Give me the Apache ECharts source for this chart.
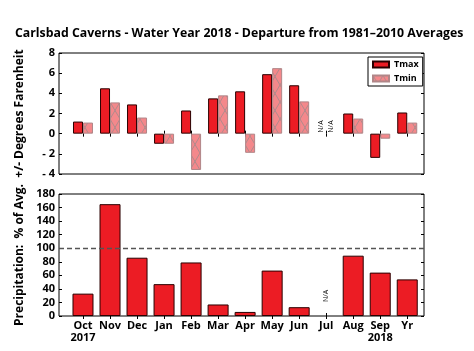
<!DOCTYPE html>
<html>
<head>
<meta charset="utf-8">
<script src="https://cdn.jsdelivr.net/npm/echarts@6/dist/echarts.min.js"></script>
<style>
  html, body { margin: 0; padding: 0; background: #fff; }
  #chart { width: 474px; height: 351px; }
</style>
</head>
<body>
<div id="chart"></div>
<script>
// categories, Oct 2017 .. Sep 2018 plus water-year total
let months = ['Oct', 'Nov', 'Dec', 'Jan', 'Feb', 'Mar', 'Apr', 'May', 'Jun', 'Jul', 'Aug', 'Sep', 'Yr'];
let monthLabels = ['Oct\n2017', 'Nov', 'Dec', 'Jan', 'Feb', 'Mar', 'Apr', 'May', 'Jun', 'Jul', 'Aug', 'Sep\n2018', 'Yr'];

// temperature departures (deg F), null = N/A
let tmax = [1.2, 4.5, 2.9, -1.0, 2.3, 3.5, 4.2, 5.9, 4.8, null, 2.0, -2.4, 2.1];
let tmin = [1.1, 3.1, 1.6, -1.0, -3.6, 3.8, -1.9, 6.5, 3.2, null, 1.5, -0.5, 1.1];

// precipitation, % of average
let precip = [33, 165, 86, 47, 79, 17, 6, 67, 13, null, 89, 64, 54];

let tempTicks = [-4, -2, 0, 2, 4, 6, 8];
let precipTicks = [0, 20, 40, 60, 80, 100, 120, 140, 160, 180];

let FONT = '"Open Sans", "DejaVu Sans", sans-serif';
let RED = '#ec1c24';
let positions = months.map((m, i) => i + 1);

function hatch() {
  let c = document.createElement('canvas');
  c.width = 10;
  c.height = 17;
  let ctx = c.getContext('2d');
  ctx.fillStyle = '#f4888b';
  ctx.fillRect(0, 0, 10, 17);
  ctx.strokeStyle = '#b08a8c';
  ctx.lineWidth = 1;
  ctx.beginPath();
  ctx.moveTo(0, 0); ctx.lineTo(10, 17);
  ctx.moveTo(10, 0); ctx.lineTo(0, 17);
  ctx.stroke();
  return c;
}

function naLabel(dist) {
  return {
    show: true, formatter: 'N/A', position: 'top', distance: dist,
    rotate: 90, align: 'left', verticalAlign: 'middle',
    fontSize: 7, color: '#000', fontFamily: FONT
  };
}

function toPoints(arr, dist) {
  return arr.map((v, i) => {
    if (v === null) {
      return { value: [i + 1, 0], itemStyle: { borderWidth: 0, color: 'transparent' }, label: naLabel(dist) };
    }
    return [i + 1, v];
  });
}

function xAxis(grid, pos, labels) {
  return {
    type: 'value', gridIndex: grid, position: pos,
    min: 0.112, max: 13.62,
    axisLine: { show: false },
    splitLine: { show: false },
    axisTick: { show: true, inside: true, length: 3, customValues: positions, lineStyle: { color: '#000' } },
    axisLabel: labels ? {
      show: true, customValues: positions,
      formatter: (v) => monthLabels[Math.round(v) - 1] || '',
      color: '#000', fontWeight: 'bold', fontSize: 11, fontFamily: FONT, margin: 4, lineHeight: 12
    } : { show: false }
  };
}

function yAxis(grid, pos, ticks, name, fmt) {
  return {
    type: 'value', gridIndex: grid, position: pos,
    min: ticks[0], max: ticks[ticks.length - 1], interval: ticks[1] - ticks[0],
    name: name || '', nameLocation: 'middle', nameGap: 33,
    nameTextStyle: { color: '#000', fontWeight: 'bold', fontSize: 12, fontFamily: FONT },
    axisLine: { show: false },
    splitLine: { show: false },
    axisTick: { show: true, inside: true, length: 3, lineStyle: { color: '#000' } },
    axisLabel: fmt ? {
      show: true, formatter: fmt, color: '#000', fontWeight: 'bold', fontSize: 11, fontFamily: FONT, margin: 4
    } : { show: false }
  };
}

let chart = echarts.init(document.getElementById('chart'), null, { renderer: 'canvas' });

let option = {
  animation: false,
  backgroundColor: '#fff',
  title: {
    text: 'Carlsbad Caverns - Water Year 2018 - Departure from 1981\u20132010 Averages',
    left: 10, top: 22,
    textStyle: { color: '#000', fontWeight: 'bold', fontSize: 12.3, fontFamily: FONT }
  },
  legend: {
    data: ['Tmax', 'Tmin'],
    orient: 'vertical', left: 368, top: 57, icon: 'rect',
    padding: [3, 4, 3, 4], itemGap: 5, itemWidth: 16, itemHeight: 6,
    borderColor: '#000', borderWidth: 1, backgroundColor: '#fff',
    textStyle: { color: '#000', fontWeight: 'bold', fontSize: 9, fontFamily: FONT }
  },
  grid: [
    { left: 59, right: 50, top: 53, height: 121, show: true, borderColor: '#000', borderWidth: 1 },
    { left: 59, right: 50, top: 194, height: 122, show: true, borderColor: '#000', borderWidth: 1 }
  ],
  xAxis: [
    xAxis(0, 'bottom', false),
    xAxis(0, 'top', false),
    xAxis(1, 'bottom', true),
    xAxis(1, 'top', false)
  ],
  yAxis: [
    yAxis(0, 'left', tempTicks, '+/- Degrees Farenheit', (v) => (v < 0 ? '- ' + Math.abs(v) : '' + v)),
    yAxis(0, 'right', tempTicks),
    yAxis(1, 'left', precipTicks, 'Precipitation:  % of Avg.', (v) => '' + v),
    yAxis(1, 'right', precipTicks)
  ],
  series: [
    {
      name: 'Tmax', type: 'bar', xAxisIndex: 0, yAxisIndex: 0,
      barWidth: 10, barGap: '0%',
      itemStyle: { color: RED, borderColor: '#2a0000', borderWidth: 1 },
      data: toPoints(tmax, 1)
    },
    {
      name: 'Tmin', type: 'bar', xAxisIndex: 0, yAxisIndex: 0,
      barWidth: 10, barGap: '0%',
      itemStyle: { color: { image: hatch(), repeat: 'repeat' }, borderColor: '#b08688', borderWidth: 1 },
      data: toPoints(tmin, 1)
    },
    {
      name: 'Precip', type: 'bar', xAxisIndex: 2, yAxisIndex: 2,
      barWidth: 21,
      itemStyle: { color: RED, borderColor: '#2a0000', borderWidth: 1 },
      data: toPoints(precip, 14),
      markLine: {
        silent: true, symbol: 'none',
        label: { show: false },
        lineStyle: { color: '#555', type: [5, 3], width: 1.3 },
        data: [{ yAxis: 100 }]
      }
    }
  ]
};

chart.setOption(option);
</script>
</body>
</html>
